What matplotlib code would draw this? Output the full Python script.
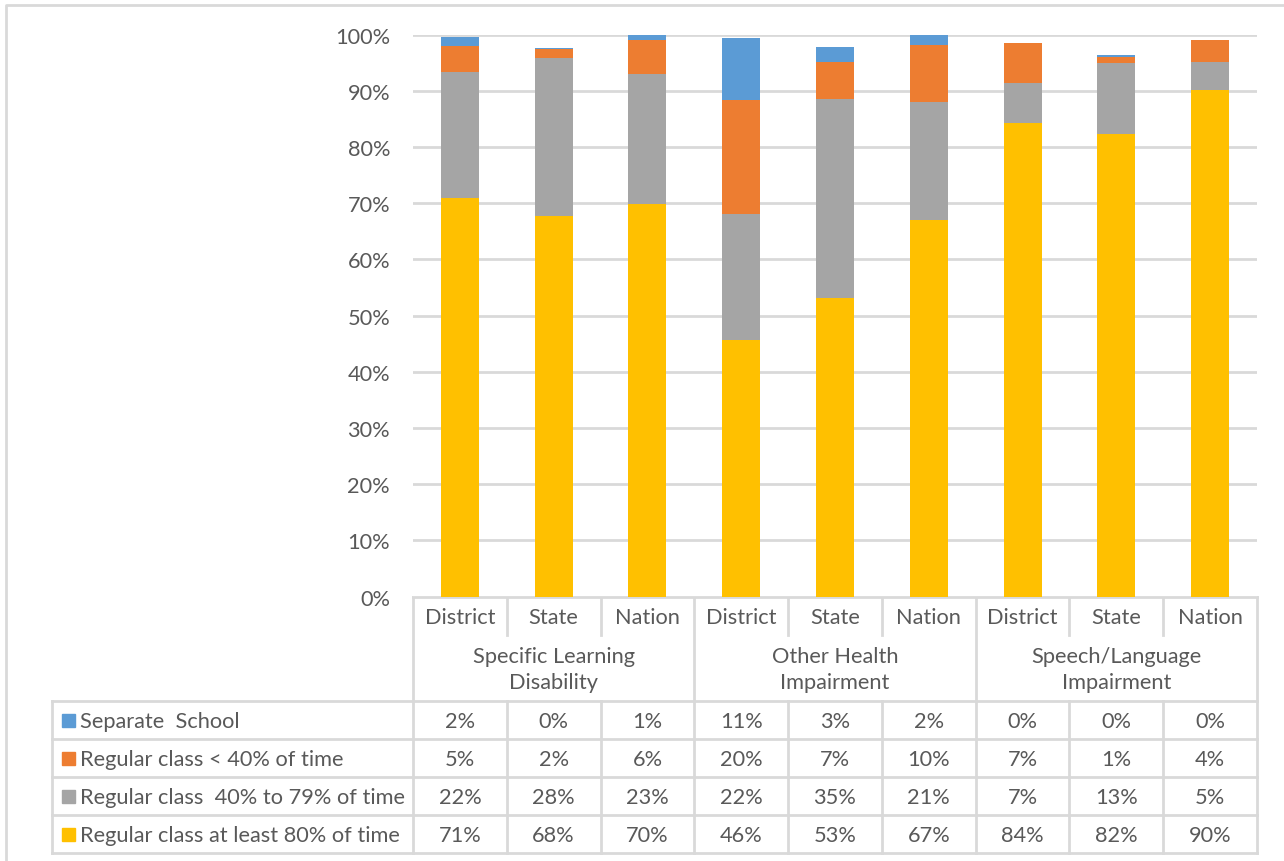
import numpy as np
import matplotlib
matplotlib.use("Agg")
import matplotlib.pyplot as plt
from matplotlib.ticker import PercentFormatter

plt.rcParams['font.family'] = ['Lato', 'DejaVu Sans']

# placement data, percent of students
groups = ['Specific Learning\nDisability', 'Other Health\nImpairment', 'Speech/Language\nImpairment']
levels = ['District', 'State', 'Nation']
series_names = ['Separate  School', 'Regular class < 40% of time',
                'Regular class  40% to 79% of time', 'Regular class at least 80% of time']
regular_80 = [71.0, 67.8, 69.9, 45.6, 53.2, 67.1, 84.3, 82.4, 90.1]
regular_40_79 = [22.3, 28.0, 23.1, 22.4, 35.3, 21.0, 7.1, 12.6, 5.0]
regular_lt40 = [4.6, 1.6, 6.1, 20.4, 6.6, 10.0, 7.1, 1.1, 4.0]
separate = [1.7, 0.3, 0.9, 11.1, 2.7, 1.9, 0.0, 0.2, 0.0]
colors = ['#5B9BD5', '#ED7D31', '#A5A5A5', '#FFC000']

txt = '#595959'
line = '#D9D9D9'
fs = 15.7

W, H = 1284, 862
fig = plt.figure(figsize=(W / 100, H / 100), dpi=100)

# plot area in pixel terms
x0, x1 = 413, 1257
ytop, ybot = 35.7, 597.5
ax = fig.add_axes([x0 / W, 1 - ybot / H, (x1 - x0) / W, (ybot - ytop) / H])

n = len(regular_80)
x = np.arange(n)
stack = [regular_80, regular_40_79, regular_lt40, separate]
bottom = np.zeros(n)
for vals, c in zip(stack, colors[::-1]):
    ax.bar(x, vals, 0.405, bottom=bottom, color=c, zorder=3)
    bottom += np.array(vals)

ax.set_xlim(-0.5, n - 0.5)
ax.set_ylim(0, 100)
ax.set_yticks(np.arange(0, 101, 10))
ax.yaxis.set_major_formatter(PercentFormatter(decimals=0))
ax.grid(axis='y', color=line, linewidth=2, zorder=0)
ax.set_xticks([])
ax.tick_params(axis='y', length=0, pad=16.5, labelsize=fs, labelcolor=txt)
for s in ['top', 'right', 'left', 'bottom']:
    ax.spines[s].set_visible(False)

# data table drawn underneath in pixel coordinates
tb = fig.add_axes([0, 0, 1, 1], zorder=-1)
tb.set_xlim(0, W)
tb.set_ylim(H, 0)
tb.axis('off')

# outer chart border
tb.plot([6, 6, W + 5], [H + 5, 6, 6], color=line, lw=2)

colw = (x1 - x0) / n
edges = x0 + colw * np.arange(n + 1)
r_sub, r_cat, r_data = 636, 702, [702, 740, 778, 816, 854]
leg_x = 52

tb.plot([x0, x1], [ybot, ybot], color=line, lw=2)
for i, e in enumerate(edges):
    if i % 3 == 0:
        tb.plot([e, e], [ybot, r_data[-1]], color=line, lw=2)
    else:
        tb.plot([e, e], [ybot, r_sub], color=line, lw=2)
        tb.plot([e, e], [r_cat, r_data[-1]], color=line, lw=2)
for y in r_data:
    tb.plot([leg_x, x1], [y, y], color=line, lw=2)
tb.plot([leg_x, leg_x], [r_data[0], r_data[-1]], color=line, lw=2)

for i in range(n):
    cx = (edges[i] + edges[i + 1]) / 2
    tb.text(cx, (ybot + r_sub) / 2 + 1, levels[i % 3], ha='center', va='center',
            fontsize=fs, color=txt)
for g, name in enumerate(groups):
    cx = (edges[3 * g] + edges[3 * g + 3]) / 2
    tb.text(cx, (r_sub + r_cat) / 2 + 1, name, ha='center', va='center',
            fontsize=fs, color=txt, linespacing=1.42)

table_rows = [separate, regular_lt40, regular_40_79, regular_80]
for r, (name, vals, c) in enumerate(zip(series_names, table_rows, colors)):
    cy = (r_data[r] + r_data[r + 1]) / 2 + 1
    tb.add_patch(plt.Rectangle((62, cy - 7), 13, 13, color=c))
    tb.text(80, cy, name, ha='left', va='center', fontsize=fs, color=txt)
    for i, v in enumerate(vals):
        cx = (edges[i] + edges[i + 1]) / 2
        tb.text(cx, cy, f'{v:.0f}%', ha='center', va='center', fontsize=fs, color=txt)

fig.savefig('out.png', dpi=100, facecolor='white')
